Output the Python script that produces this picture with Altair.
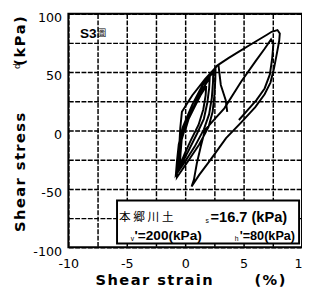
import altair as alt
import pandas as pd

# ---- data (strain %, stress kPa) ----
main_strain = [0.0,
    0.3, 0.8, 1.3, 1.8,
    1.75, 1.55, 1.15, 0.5, -0.05, -0.45,
    -0.4, -0.3, 0.1, 0.7, 1.4, 2.1,
    2.05, 1.9, 1.6, 1.0, 0.25, -0.6,
    -0.55, -0.45, -0.1, 0.6, 1.5, 2.4,
    2.38, 2.28, 2.05, 1.6, 0.8, -0.1, -0.8,
    -0.7, -0.55, -0.2, 0.6, 1.6, 2.6,
    2.58, 2.5, 2.35, 2.0, 1.2, 0.2, -0.7,
    -0.6, -0.5, -0.42, -0.28, 0.6, 1.7, 2.8, 3.7, 4.6, 5.5, 6.25, 7.0, 7.4, 7.9,
    8.1, 8.05, 7.85, 7.6, 7.3, 6.8, 6.0, 4.8, 3.5, 2.1, 1.2, 0.55,
    0.75, 1.0, 1.35, 1.7, 2.5, 3.35, 4.8, 6.0, 6.8, 7.35,
    7.55, 7.45, 7.25, 6.8, 6.1, 5.4, 4.6]
main_stress = [0.0,
    10, 20, 30, 38,
    30, 18, 5, -8, -20, -30,
    -20, -8, 6, 20, 34, 45,
    36, 24, 10, -3, -18, -34,
    -24, -10, 5, 22, 39, 50,
    41, 28, 14, 1, -14, -28, -38,
    -26, -12, 3, 22, 41, 54,
    44, 30, 16, 3, -12, -27, -40,
    -28, -12, 2, 16, 30, 44, 56, 62, 67.5, 73, 77.5, 82, 84.5, 86,
    83, 77, 66, 53, 41, 31, 20, 7, -6.5, -26, -38, -48,
    -42, -28, -13, 0.5, 9.5, 19, 42, 59, 70, 78,
    74, 62, 48, 36, 26, 18, 9]
hook_strain = [2.85, 3.05, 3.47, 3.6]
hook_stress = [56, 39, 26, 16]

x_grid = [-10, -7.5, -5, -2.5, 0, 2.5, 5, 7.5, 10]
y_grid = [-100, -75, -50, -25, 0, 25, 50, 75, 100]

soil_chars = ["本", "郷", "川", "土"]

HS = "\u200a"  # hair space for letter tracking
def spaced(s):
    return HS.join(list(s))

rows = []
for i, (a, b) in enumerate(zip(main_strain, main_stress)):
    rows.append({"strain": a, "stress": b, "seg": "main", "idx": i})
for i, (a, b) in enumerate(zip(hook_strain, hook_stress)):
    rows.append({"strain": a, "stress": b, "seg": "hook", "idx": i})
df = pd.DataFrame(rows)

xaxis = alt.Axis(values=x_grid, title=None, ticks=False, tickSize=0, domain=False,
                 labelExpr="datum.value % 5 == 0 ? '' + datum.value : ''",
                 labelFont="DejaVu Sans", labelFontSize=13, labelColor="black",
                 labelPadding=11, labelFlush=False,
                 grid=True, gridColor="black", gridDash=[5, 1.5], gridWidth=1.5, gridOpacity=1)
yaxis = alt.Axis(values=y_grid, title=None, ticks=False, tickSize=0, domain=False,
                 labelExpr="datum.value % 50 == 0 ? '' + datum.value : ''",
                 labelFont="DejaVu Sans", labelFontSize=13, labelColor="black",
                 labelPadding=7, labelOffset=4, labelFlush=False,
                 grid=True, gridColor="black", gridDash=[5, 1.5], gridWidth=1.5, gridOpacity=1)

lines = alt.Chart(df).mark_line(color="black", strokeWidth=2, clip=True).encode(
    x=alt.X("strain:Q", scale=alt.Scale(domain=[-10, 10], nice=False, zero=False), axis=xaxis),
    y=alt.Y("stress:Q", scale=alt.Scale(domain=[-100, 100], nice=False, zero=False), axis=yaxis),
    detail="seg:N",
    order="idx:Q",
)

one = pd.DataFrame({"a": [0]})

box = alt.Chart(one).mark_rect(fill="white", stroke="black", strokeWidth=2).encode(
    x=alt.value(50), x2=alt.value(237), y=alt.value(192), y2=alt.value(236))

def txt(text, x, y, size, bold=True, font="Liberation Sans", align="left", angle=0, baseline="middle"):
    kw = dict(text=text, fontSize=size, font=font, align=align, baseline=baseline, color="black")
    if bold:
        kw["fontWeight"] = "bold"
    if angle:
        kw["angle"] = angle
    return alt.Chart(one).mark_text(**kw).encode(x=alt.value(x), y=alt.value(y))

texts = [
    txt("S3", 12, 21, 14),
    txt("圖", 30, 20, 9, bold=False, font="Noto Sans CJK TC"),
    txt("s", 141, 213, 7, bold=False),
    txt("=16.7 (kPa)", 146, 209, 15),
    txt("v", 64, 232, 7, bold=False),
    txt("'=200(kPa)", 68, 228, 14),
    txt("h", 171, 232, 7, bold=False),
    txt("'=80(kPa)", 176, 228, 13),
    # axis titles
    txt(spaced("Shear strain"), 88, 274, 15, font="DejaVu Sans", align="center"),
    txt(spaced("(%)"), 207, 274, 15, font="DejaVu Sans", align="center"),
    txt(spaced("Shear stress"), -50, 163, 15, font="DejaVu Sans", align="center", angle=270),
    txt("d", -53, 54, 9, bold=False, font="DejaVu Sans", align="center", angle=270),
    txt(spaced("(kPa)"), -50, 28, 15, font="DejaVu Sans", align="center", angle=270),
]
for k, ch in enumerate(soil_chars):
    texts.append(txt(ch, 52 + k * 14.7, 209, 12, bold=False, font="Noto Sans CJK JP"))

chart = alt.layer(lines, box, *texts).properties(
    width=240, height=240,
    autosize=alt.AutoSizeParams(type="none"),
    padding={"left": 62, "top": 2, "right": 0, "bottom": 40},
).configure_view(stroke="black", strokeWidth=2)

chart.save("out.html", embed_options={"renderer": "svg", "actions": False})
